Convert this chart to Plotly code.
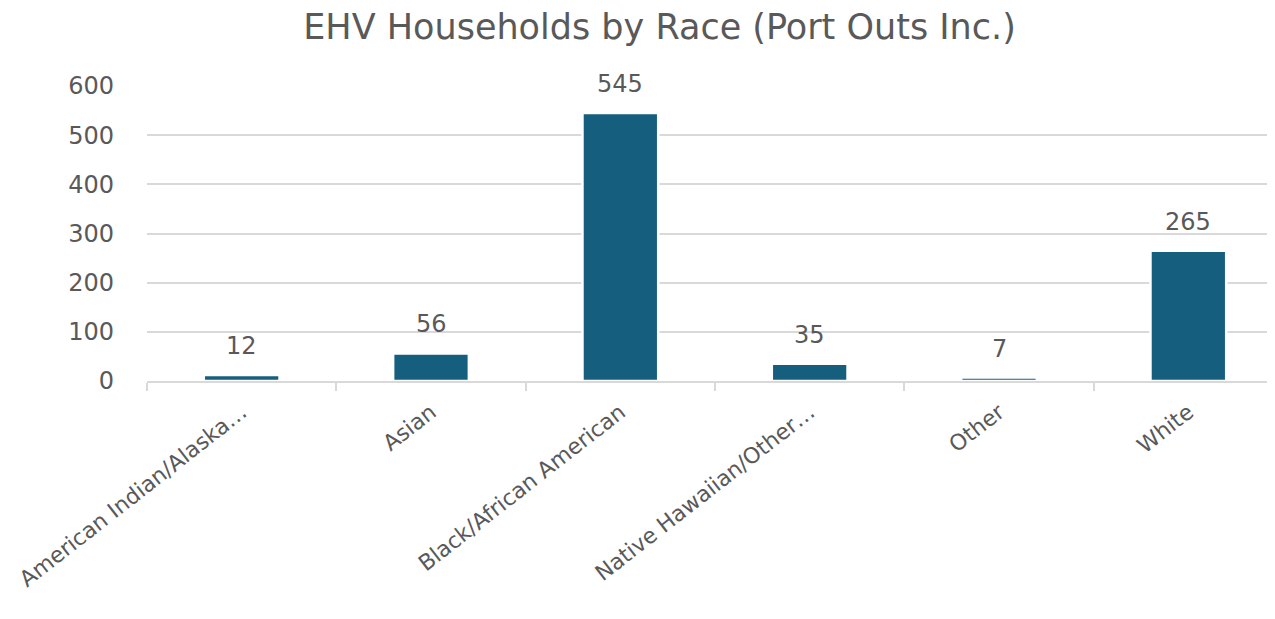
import plotly.graph_objects as go

categories = ["American Indian/Alaska…", "Asian", "Black/African American",
              "Native Hawaiian/Other…", "Other", "White"]
values = [12, 56, 545, 35, 7, 265]
y_ticks = [0, 100, 200, 300, 400, 500, 600]

bar_color = "#165E7E"
text_color = "#595959"
grid_color = "#D9D9D9"
font_family = "DejaVu Sans"

fig = go.Figure()
fig.add_trace(go.Bar(
    x=categories,
    y=values,
    width=0.4,
    marker=dict(color=bar_color, line=dict(color="white", width=2.5)),
    hoverinfo="skip",
))

for c, v in zip(categories, values):
    fig.add_annotation(
        x=c, y=v, text=str(v), showarrow=False,
        yanchor="bottom", yshift=13,
        font=dict(family=font_family, size=24, color=text_color),
    )

fig.update_layout(
    width=1275, height=619,
    margin=dict(l=139, r=0, t=78, b=246, autoexpand=False),
    paper_bgcolor="white", plot_bgcolor="white",
    showlegend=False,
    title=dict(
        text="EHV Households by Race (Port Outs Inc.)",
        x=0.511, xanchor="center", y=1 - 19 / 619, yanchor="middle",
        font=dict(family=font_family, size=35, color=text_color),
    ),
)

fig.update_xaxes(
    range=[-0.5, 5.5],
    tickangle=-38,
    tickson="boundaries",
    ticks="outside", ticklen=8, tickcolor=grid_color, tickwidth=1.5,
    showline=True, linecolor=grid_color, linewidth=1.5,
    showgrid=False,
    ticklabelstandoff=8,
    automargin=False,
    tickfont=dict(family=font_family, size=22, color=text_color),
    fixedrange=True,
)
fig.update_yaxes(
    range=[0, 600],
    tickvals=y_ticks,
    showgrid=True, gridcolor=grid_color, gridwidth=1.5,
    zeroline=False,
    ticks="", ticklabelstandoff=32,
    automargin=False,
    tickfont=dict(family=font_family, size=24, color=text_color),
    fixedrange=True,
)

fig.write_html("out.html")
